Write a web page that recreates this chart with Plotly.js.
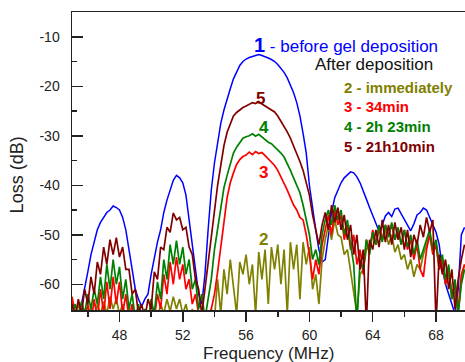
<!DOCTYPE html>
<html>
<head>
<meta charset="utf-8">
<script src="https://cdn.plot.ly/plotly-3.0.1.min.js"></script>
<style>html,body{margin:0;padding:0;background:#fff;}#chart{width:465px;height:362px;}</style>
</head>
<body>
<div id="chart"></div>
<script>
const freq = [45.0,45.2,45.4,45.6,45.8,46.0,46.2,46.4,46.6,46.8,47.0,47.2,47.4,47.6,47.8,48.0,48.2,48.4,48.6,48.8,
49.0,49.2,49.4,49.6,49.8,50.0,50.2,50.4,50.6,50.8,51.0,51.2,51.4,51.6,51.8,52.0,52.2,52.4,52.6,52.8,
53.0,53.2,53.4,53.6,53.8,54.0,54.2,54.4,54.6,54.8,55.0,55.2,55.4,55.6,55.8,56.0,56.2,56.4,56.6,56.8,
57.0,57.2,57.4,57.6,57.8,58.0,58.2,58.4,58.6,58.8,59.0,59.2,59.4,59.6,59.8,60.0,60.2,60.4,60.6,60.8,
61.0,61.2,61.4,61.6,61.8,62.0,62.2,62.4,62.6,62.8,63.0,63.2,63.4,63.6,63.8,64.0,64.2,64.4,64.6,64.8,
65.0,65.2,65.4,65.6,65.8,66.0,66.2,66.4,66.6,66.8,67.0,67.2,67.4,67.6,67.8,68.0,68.2,68.4,68.6,68.8,
69.0,69.2,69.4,69.6,69.8];

const lossBefore = [-68,-67,-66,-64,-61,-57.5,-54,-51.5,-49,-47.5,-46.5,-45.5,-45,-44.2,-44.5,-45,-46.5,-49,-53,-57.5,
-61,-63,-64.5,-63,-62,-58,-54.5,-51.5,-49,-45.5,-43,-41,-39,-38,-38.5,-39.5,-42,-47,-52,-56,
-62,-64,-58,-49,-41,-35.5,-31,-27.5,-24.8,-22.5,-20.5,-18.5,-17,-15.8,-15,-14.5,-14.2,-14,-13.8,-13.6,
-13.8,-14,-14.3,-14.6,-15,-15.6,-16.3,-17.2,-18.3,-19.7,-21.3,-23.3,-26,-29.5,-33.5,-40,-45,-49,-53,-55.5,
-55,-50,-45.5,-42.5,-41,-39.5,-38.5,-37.8,-37.3,-37.5,-38.3,-39.5,-41,-42.8,-44.5,-46,-47.8,-49.3,-48,-46.2,
-45.5,-46.3,-44.8,-44.6,-45.8,-47,-48.3,-49.2,-47.8,-46,-45.5,-44.6,-45,-46.5,-47.8,-49.5,-52,-57,-60,-62,
-64,-66,-61,-50,-48.5];

const lossImmediately = [-63.5,-66,-64,-67,-65,-67,-64.5,-67,-64,-66,-63.5,-66,-62.5,-65,-63,-66,-64,-67,-65,-67,
-66,-68,-66,-68,-66,-68,-65,-67,-64,-66,-63,-65.5,-62.5,-65,-63,-66,-64,-67,-65,-67,
-66,-68,-66,-68,-65,-67,-59,-66,-57,-62,-55,-60,-66,-55.5,-58,-54,-60,-56,-66,-53.5,
-59,-53,-64,-52.5,-57,-52,-60,-53,-66,-51.5,-57,-52,-63,-51.5,-56,-52.5,-61,-58,-64,-55,
-51,-48,-51,-47,-50,-50.5,-54,-53,-57,-61,-66,-58,-57,-53,-52,-50,-52,-49,-51,-49,
-52,-50,-53.5,-52,-55,-54,-57,-55,-58.5,-56,-57,-54,-52,-50,-53,-52,-57,-55,-60,-58,
-63,-61,-66,-59,-56];

const loss34min = [-62.5,-66,-67,-65,-67,-64,-68,-63,-67,-61,-66,-59.5,-65,-58.5,-64,-59.5,-66,-62,-67,-64,
-68,-65,-68,-66,-68,-64,-67,-62,-65,-58,-62,-55.5,-60,-54.5,-59,-56,-61,-59,-64,-62,
-66,-68,-66,-68,-65,-62,-57.5,-53,-47.5,-42.5,-39.5,-37.5,-35.8,-34.8,-34.2,-33.9,-33.3,-33.8,-33.2,-33.6,
-33.4,-34,-34.6,-35.2,-36,-37,-38.3,-39.5,-41,-42.5,-44,-45,-46.5,-47,-50,-54,-59,-55,-58,-52,
-49,-46,-50,-45,-48,-46,-51,-48,-53,-50,-56,-53,-58,-51,-53,-49,-52,-48.5,-51,-48,
-50,-48,-51,-49,-52,-49,-53,-51,-55,-52,-57,-58.5,-53,-50,-54,-52,-57,-55,-60,-57,
-62,-60,-65,-58,-56];

const loss2h23min = [-66,-64,-67,-63.5,-66,-62,-65,-61,-64,-58.5,-63,-56,-61,-55,-60,-56.5,-63,-59,-65,-62,
-67,-64,-67,-65,-68,-63,-66,-59.5,-63,-55,-59,-52,-56,-51.2,-56,-52.5,-58,-55,-61,-59,
-65,-62,-67,-63,-59,-53,-48.5,-44,-40.5,-38,-35.5,-33.5,-32.3,-31.3,-30.5,-30.2,-30,-29.6,-30.1,-29.7,
-30.2,-30.8,-31.3,-31.6,-32.2,-32.8,-33.5,-34.3,-35.5,-37,-38.5,-40,-41.5,-44,-47,-50,-55,-53,-56,-50,
-47,-45,-48,-44,-47,-45,-50,-47,-52,-56,-68,-55,-57,-51,-54,-49.5,-52,-48,-51.5,-48,
-50.5,-47.5,-51,-48.5,-52,-49,-52.5,-50,-54,-51,-55,-53,-51,-49,-53,-51,-56,-54,-59,-56,
-63,-59,-66,-60,-57];

const loss21h10min = [-64,-67,-63,-66,-61,-64,-58.5,-62,-55.5,-58,-52.5,-56,-51,-54,-50.6,-54.5,-52.5,-57,-57,-62,
-61,-66,-64,-67,-63,-65,-57.5,-59,-52.5,-53,-48.5,-49.5,-45.6,-47,-46.5,-49,-48.5,-52.5,-54,-59,
-61,-66,-61,-55.5,-50,-44.5,-40,-36,-32,-29.3,-27.5,-26,-25.3,-24.7,-24.3,-24,-23.7,-23.3,-23.5,-23.1,
-23.6,-24,-24.3,-24.8,-25.2,-26,-27,-28,-29.2,-30.5,-32,-33.6,-35.2,-37,-39.5,-42,-46,-49,-52,-48,
-45.5,-49,-44,-47.5,-44.5,-49,-46,-51,-48,-54,-50,-57,-53,-68,-51,-53,-49,-52.5,-47,-51.5,
-48,-52,-47.5,-51,-48.5,-53,-49,-54.5,-50,-52,-48,-50.5,-46.5,-49.5,-47,-68,-54,-58,-55,-61,
-57,-65,-59,-55,-52];

const xTicks = [48,52,56,60,64,68];
const yTicks = [-60,-50,-40,-30,-20,-10];

const FONT = 'Liberation Sans, Arial, sans-serif';

function tr(y, color, w){
  return {x: freq, y: y, type:'scatter', mode:'lines', line:{color:color, width:w}, hoverinfo:'skip', showlegend:false};
}

const data = [
  tr(lossBefore,'#0000ff',1.5),
  tr(lossImmediately,'#808000',1.7),
  tr(loss34min,'#ff0000',1.7),
  tr(loss2h23min,'#008000',1.7),
  tr(loss21h10min,'#800000',1.7)
];

function ann(text, x, y, color, size, bold, xanchor){
  return {text: bold ? '<b>'+text+'</b>' : text, x:x, y:y, xref:'x', yref:'y', showarrow:false,
    xanchor: xanchor||'left', yanchor:'middle', font:{family:FONT, size:size, color:color}};
}

const layout = {
  width:465, height:362,
  margin:{l:72, r:0, t:12, b:52, pad:0},
  paper_bgcolor:'#fff', plot_bgcolor:'#fff',
  font:{family:FONT, size:14, color:'#222'},
  xaxis:{range:[45,69.83], tickvals:xTicks, ticktext:xTicks.map(String), ticks:'outside', ticklen:10, tickwidth:1.5, tickcolor:'#222',
    minor:{tickvals:[46,50,54,58,62,66], ticks:'outside', ticklen:5, tickwidth:1.5, tickcolor:'#222'},
    showline:true, linecolor:'#222', linewidth:1.5, mirror:true, showgrid:false, zeroline:false,
    tickfont:{family:FONT, size:14, color:'#222'}, ticklabelstandoff:2},
  yaxis:{range:[-65.2,-5], tickvals:yTicks, ticktext:yTicks.map(String), ticks:'inside', ticklen:11, tickwidth:1.5, tickcolor:'#222',
    minor:{tickvals:[-65,-55,-45,-35,-25,-15,-5], ticks:'inside', ticklen:5, tickwidth:1.5, tickcolor:'#222'},
    showline:true, linecolor:'#222', linewidth:1.5, showgrid:false, zeroline:false,
    tickfont:{family:FONT, size:14, color:'#222'}, ticklabelstandoff:8},
  annotations:[
    ann('<b style="font-size:20px">1</b> - before gel deposition', 56.35, -11.66, '#0000ff', 17, false),
    ann('After deposition', 60.22, -15.7, '#111', 17, false),
    ann('2 - immediately', 62.06, -20.28, '#808000', 15, true),
    ann('3 - 34min', 62.06, -24.11, '#ff0000', 15, true),
    ann('4 - 2h 23min', 62.06, -28.15, '#008000', 15, true),
    ann('5 - 21h10min', 62.06, -32.18, '#800000', 15, true),
    ann('5', 56.88, -22.4, '#800000', 17, true, 'center'),
    ann('4', 57.13, -28.4, '#008000', 17, true, 'center'),
    ann('3', 57.13, -37.5, '#ff0000', 17, true, 'center'),
    ann('2', 57.07, -51.0, '#808000', 17, true, 'center'),
    {text:'Frequency (MHz)', xref:'paper', yref:'paper', x:0.5, y:-0.147, xanchor:'center', yanchor:'middle', showarrow:false,
      font:{family:FONT, size:17, color:'#222'}},
    {text:'Loss (dB)', xref:'paper', yref:'paper', x:-0.139, y:0.453, xanchor:'center', yanchor:'middle', textangle:-90, showarrow:false,
      font:{family:FONT, size:18, color:'#222'}}
  ]
};

Plotly.newPlot('chart', data, layout, {displayModeBar:false, staticPlot:true});
</script>
</body>
</html>
